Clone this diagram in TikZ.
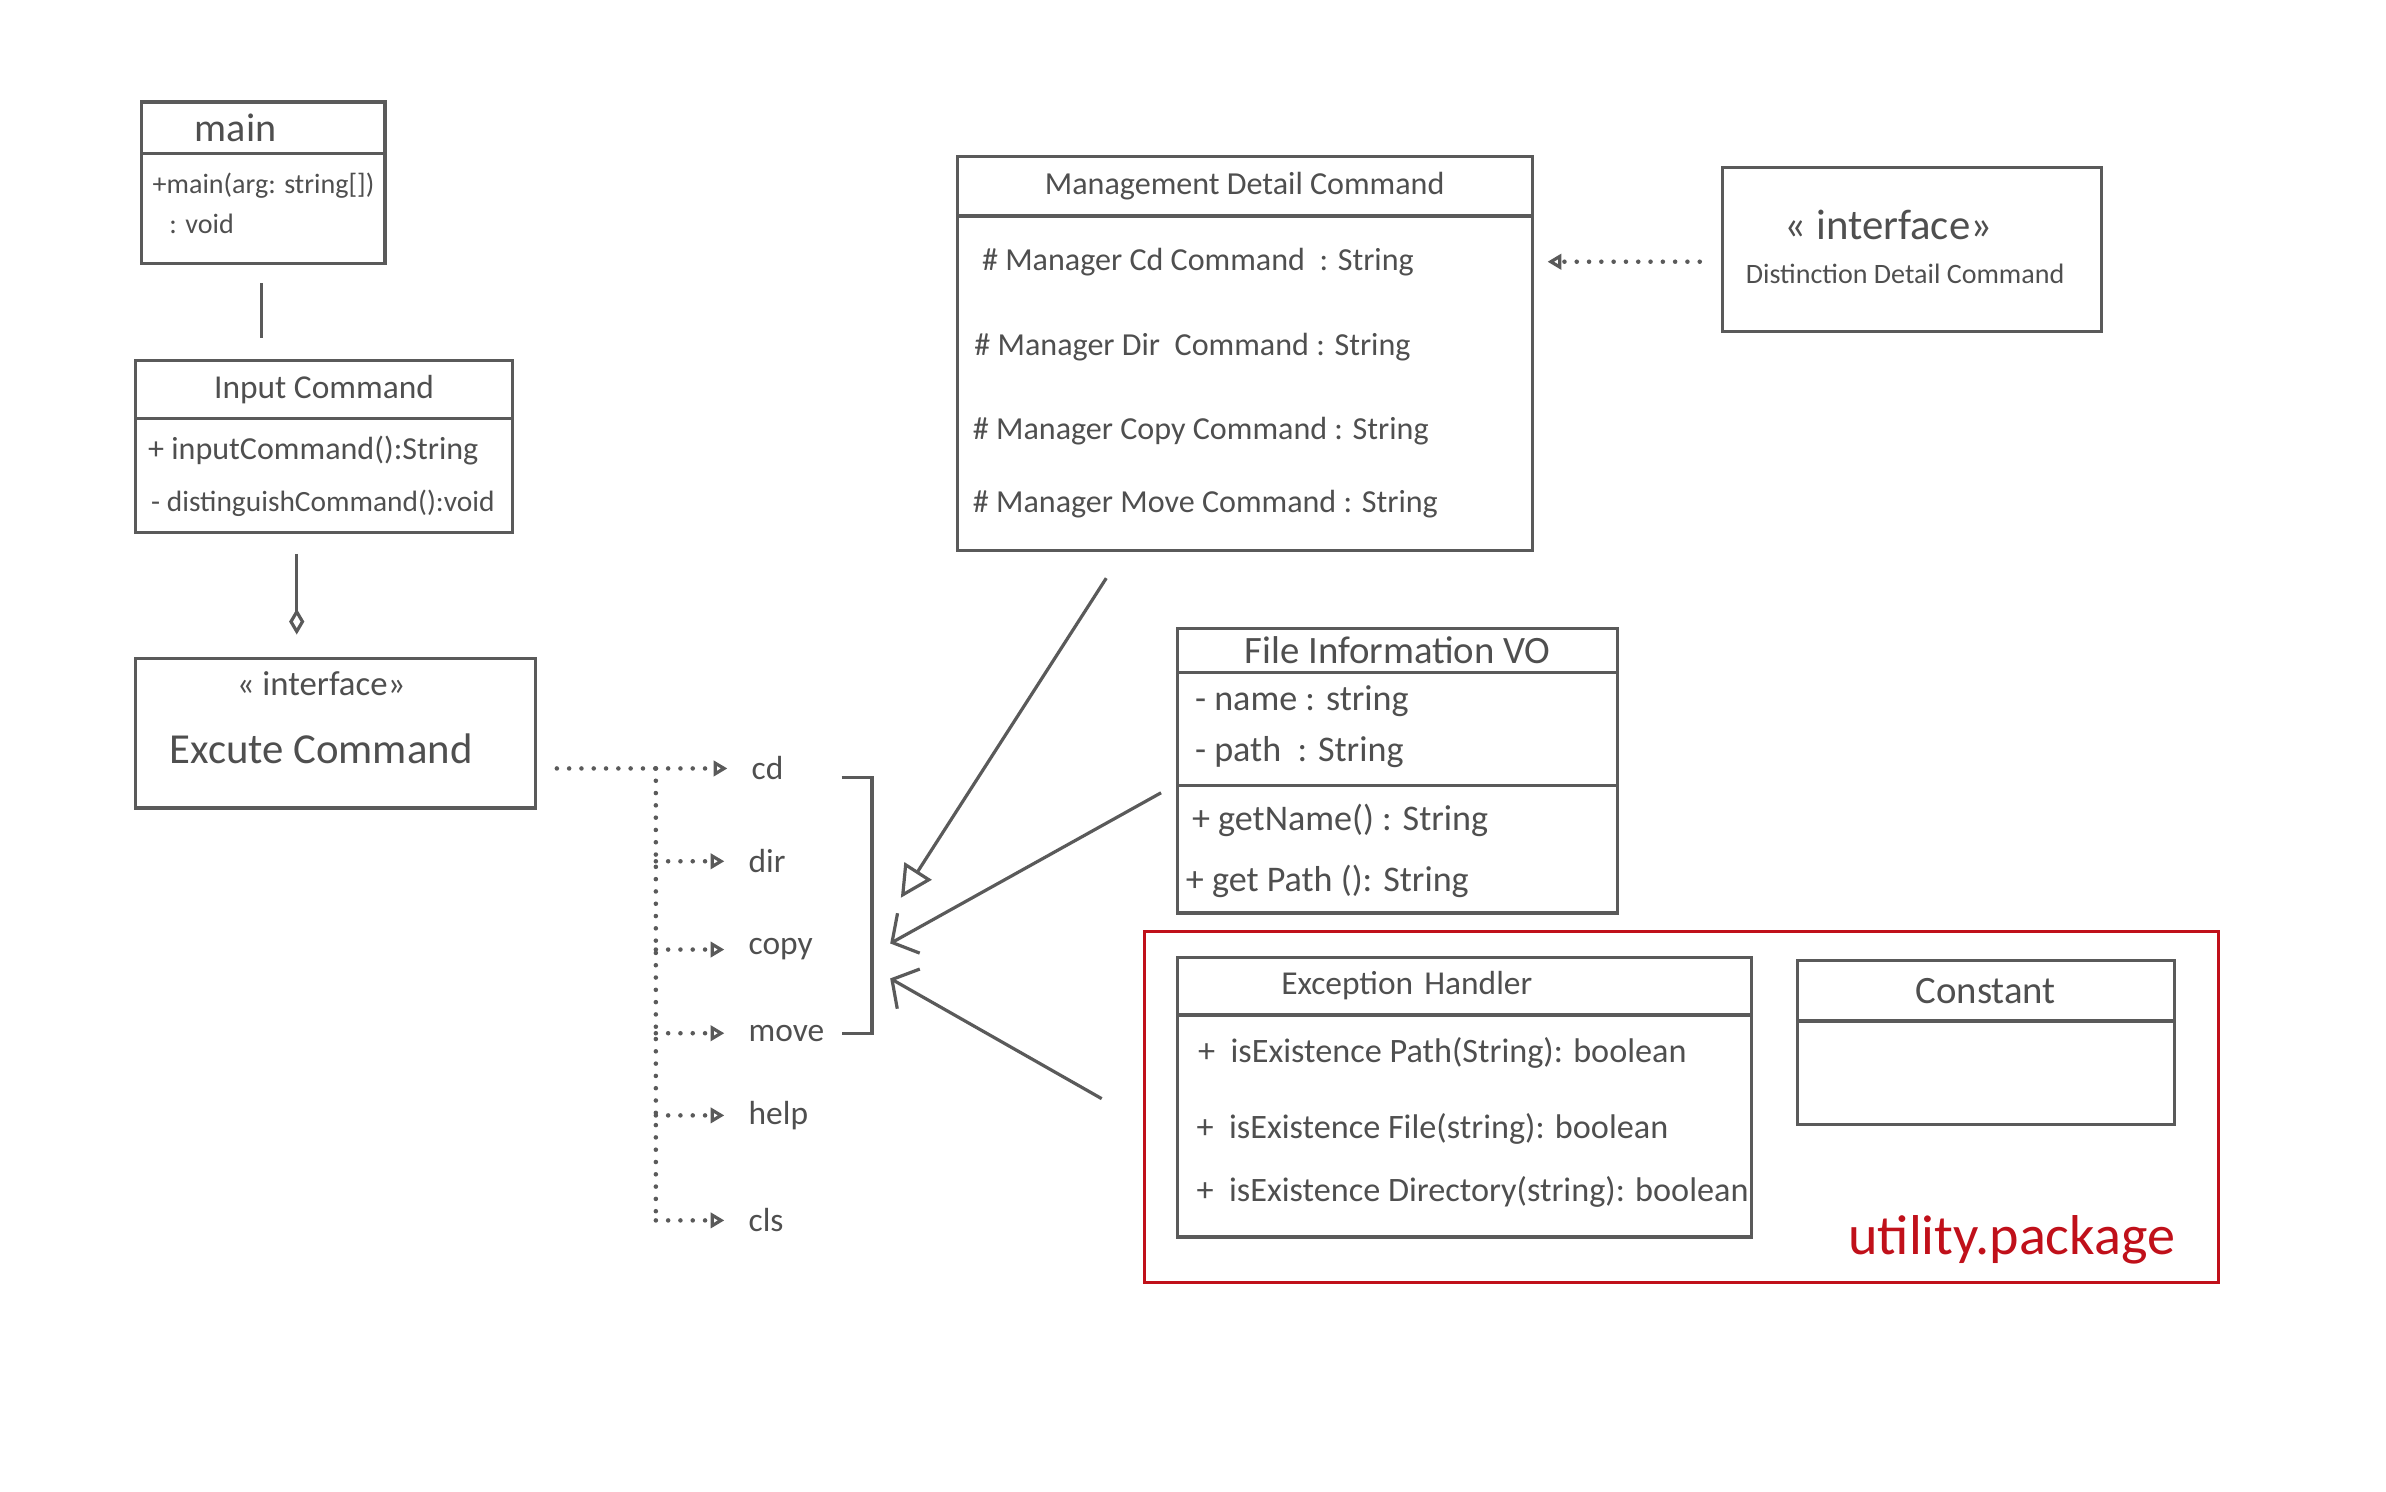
\documentclass[tikz,border=0pt]{standalone}
\usepackage{fontspec}
\setmainfont{Carlito}
\usetikzlibrary{positioning,arrows.meta}
\definecolor{umlgray}{HTML}{5A5A5A}
\definecolor{umltext}{HTML}{4F4F4F}
\definecolor{umlred}{HTML}{C0101A}
\newcommand{\fs}[1]{\fontsize{#1}{#1}\selectfont}
\tikzset{%
	umlbox/.style={%
		draw=umlgray,
		line width=1.2pt,
		outer sep=0pt,
		inner sep=0pt,
		text=umltext
	},
	member/.style={%
		anchor=west,
		inner sep=0pt,
		text=umltext,
		font=\fs{12}
	},
	cmd/.style={%
		anchor=west,
		inner sep=0pt,
		inner xsep=0.32cm,
		outer sep=0pt,
		text=umltext,
		font=\fs{12.5}
	},
	umlline/.style={%
		draw=umlgray,
		line width=1.2pt
	},
	dep/.style={%
		draw=umlgray,
		line width=1.7pt,
		line cap=round,
		dash pattern=on 0pt off 4.6pt
	}
}

\begin{document}
\begin{tikzpicture}[x=0.02cm, y=-0.02cm, node distance=0pt,
    realize/.style={dep, -{Triangle[open, line width=1.2pt, length=0.18cm, width=0.2cm]}},
    implarrow/.style={umlline, -{Triangle[open, length=0.42cm, width=0.42cm]}},
    usearrow/.style={umlline, -{Straight Barb[length=0.25cm, width=0.6cm]}},
    aggr/.style={umlline, -{Diamond[open, length=0.34cm, width=0.2cm]}}]
    \useasboundingbox (0,0) rectangle (1568,980);

    \node[umlbox, anchor=north west, minimum width=3.2cm, minimum height=0.68cm, text width=1.8cm, inner xsep=0.7cm, align=left, font=\fs{15}] (mainhead) at (93,67) {main};
    \node[umlbox, below=of mainhead, minimum width=3.2cm, minimum height=1.44cm] (mainbody) {};
    \node[member, font=\fs{10.5}] (mainop) at (100,122) {+main(arg: string[])};
    \node[member, font=\fs{10.5}] (mainret) at (111,147) {: void};

    \node[umlbox, anchor=north west, minimum width=4.96cm, minimum height=0.76cm, font=\fs{12.5}] (inputhead) at (89,237) {Input Command};
    \node[umlbox, below=of inputhead, minimum width=4.96cm, minimum height=1.5cm] (inputbody) {};
    \node[member] (inputop) at (97,296) {+ inputCommand():String};
    \node[member, font=\fs{11}] (distinguishop) at (99,331) {- distinguishCommand():void};

    \node[umlbox, anchor=north west, minimum width=5.26cm, minimum height=1.96cm] (excute) at (89,433) {};
    \node[member, anchor=center, font=\fs{13}] (excutestereo) at (211,449) {<< interface>>};
    \node[member, anchor=center, font=\fs{16}] (excutename) at (211,492) {Excute Command};

    \draw[umlline] ([shift={(79,13)}]mainbody.south west) -- ([shift={(83,-15)}]inputhead.north west);
    \draw[aggr] ([shift={(106,14)}]inputbody.south west) -- ([shift={(106,-16)}]excute.north west);

    \node[cmd] (cd) at (478,505) {cd};
    \node[cmd] (dir) at (476,566) {dir};
    \node[cmd] (copy) at (476,624) {copy};
    \node[cmd] (move) at (476,679) {move};
    \node[cmd] (help) at (476,733) {help};
    \node[cmd] (cls) at (476,802) {cls};
    \coordinate (fork) at (431,505);
    \draw[dep, shorten <=0.28cm] (excute.east |- fork) -- (fork);
    \draw[dep] (fork) -- (fork |- cls);
    \foreach \c in {cd,dir,copy,move,help,cls}
        \draw[realize] (fork |- \c) -- (\c);
    \draw[umlline] (553,511) -| (573,679) -- (553,679);

    \node[umlbox, anchor=north west, minimum width=7.56cm, minimum height=0.78cm, font=\fs{12}] (mgmthead) at (629,103) {Management Detail Command};
    \node[umlbox, below=of mgmthead, minimum width=7.56cm, minimum height=4.4cm] (mgmtbody) {};
    \node[member] (mgmtcd) at (645,172) {\# Manager Cd Command\ \ : String};
    \node[member] (mgmtdir) at (640,228) {\# Manager Dir\ \ Command : String};
    \node[member] (mgmtcopy) at (639,283) {\# Manager Copy Command : String};
    \node[member] (mgmtmove) at (639,331) {\# Manager Move Command : String};

    \node[umlbox, anchor=north west, minimum width=4.98cm, minimum height=2.16cm] (dist) at (1132,110) {};
    \node[member, anchor=center, font=\fs{16}] (diststereo) at (1241,148) {<< interface>>};
    \node[member, anchor=center, font=\fs{10.5}] (distname) at (1252,180) {Distinction Detail Command};
    \coordinate (mgmtport) at (1017,172);
    \draw[realize] ([shift={(-15,8)}]dist.west) -- (mgmtport);

    \node[umlbox, anchor=north west, minimum width=5.78cm, minimum height=0.58cm, font=\fs{14.5}] (vohead) at (774,413) {File Information VO};
    \node[umlbox, below=of vohead, minimum width=5.78cm, minimum height=1.48cm] (voattr) {};
    \node[umlbox, below=of voattr, minimum width=5.78cm, minimum height=1.68cm] (voops) {};
    \node[member, font=\fs{13.5}] (voname) at (785,461) {- name : string};
    \node[member, font=\fs{13.5}] (vopath) at (785,494) {- path\ \ : String};
    \node[member, font=\fs{13.5}] (vogetname) at (783,539) {+ getName() : String};
    \node[member, font=\fs{13.5}] (vogetpath) at (779,579) {+ get Path (): String};

    \node[draw=umlred, line width=1.2pt, outer sep=0pt, anchor=north west, minimum width=14.12cm, minimum height=4.62cm] (util) at (752,612) {};
    \node[text=umlred, inner sep=0pt, font=\fs{21}] (utilname) at (1322,815) {utility.package};

    \node[umlbox, anchor=north west, minimum width=7.54cm, minimum height=0.76cm, text width=4.82cm, inner xsep=1.36cm, align=left, font=\fs{12.5}] (exchead) at (774,629) {Exception Handler};
    \node[umlbox, below=of exchead, minimum width=7.54cm, minimum height=2.92cm] (excbody) {};
    \node[member, font=\fs{12.8}] (excpath) at (787,692) {+\ \ isExistence Path(String): boolean};
    \node[member, font=\fs{12.8}] (excfile) at (786,742) {+\ \ isExistence File(string): boolean};
    \node[member, font=\fs{12.8}] (excdir) at (786,783) {+\ \ isExistence Directory(string): boolean};

    \node[umlbox, anchor=north west, minimum width=4.96cm, minimum height=0.8cm, font=\fs{14.5}] (consthead) at (1181,631) {Constant};
    \node[umlbox, below=of consthead, minimum width=4.96cm, minimum height=1.36cm] (constbody) {};

    \coordinate (tipA) at (592,590);
    \coordinate (tipB) at (585,620);
    \coordinate (tipC) at (585,643);
    \draw[implarrow] ([shift={(98,18)}]mgmtbody.south west) -- (tipA);
    \draw[usearrow] ([shift={(-11,5)}]voattr.south west) -- (tipB);
    \draw[usearrow] ([shift={(-28,110)}]util.north west) -- (tipC);
\end{tikzpicture}
\end{document}
